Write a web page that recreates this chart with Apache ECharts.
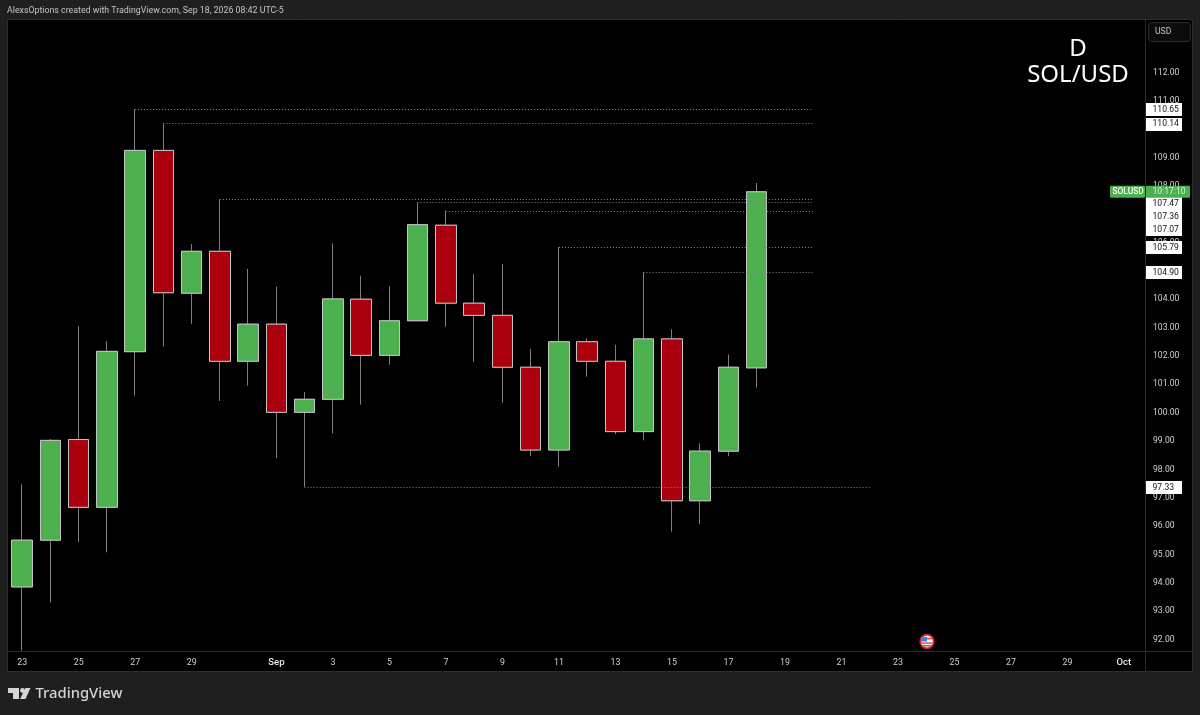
<!DOCTYPE html>
<html>
<head>
<meta charset="utf-8">
<title>SOL/USD</title>
<style>
    html, body { margin: 0; padding: 0; background: #1f1f1f; }
    #chart { width: 1200px; height: 715px; }
</style>
<script src="https://cdn.jsdelivr.net/npm/echarts@6/dist/echarts.min.js"></script>
</head>
<body>
<div id="chart"></div>
<script>
// daily candles from Aug 23 to Sep 18, the axis runs on to Oct 1
var categories = [
    'Aug 23', 'Aug 24', 'Aug 25', 'Aug 26', 'Aug 27', 'Aug 28', 'Aug 29', 'Aug 30', 'Aug 31',
    'Sep 1', 'Sep 2', 'Sep 3', 'Sep 4', 'Sep 5', 'Sep 6', 'Sep 7', 'Sep 8', 'Sep 9', 'Sep 10',
    'Sep 11', 'Sep 12', 'Sep 13', 'Sep 14', 'Sep 15', 'Sep 16', 'Sep 17', 'Sep 18', 'Sep 19',
    'Sep 20', 'Sep 21', 'Sep 22', 'Sep 23', 'Sep 24', 'Sep 25', 'Sep 26', 'Sep 27', 'Sep 28',
    'Sep 29', 'Sep 30', 'Oct 1'
];
var xTickLabels = {
    'Aug 23': '23', 'Aug 25': '25', 'Aug 27': '27', 'Aug 29': '29', 'Sep 1': 'Sep',
    'Sep 3': '3', 'Sep 5': '5', 'Sep 7': '7', 'Sep 9': '9', 'Sep 11': '11', 'Sep 13': '13',
    'Sep 15': '15', 'Sep 17': '17', 'Sep 19': '19', 'Sep 21': '21', 'Sep 23': '23',
    'Sep 25': '25', 'Sep 27': '27', 'Sep 29': '29', 'Oct 1': 'Oct'
};
var yTicks = [92, 93, 94, 95, 96, 97, 98, 99, 100, 101, 102, 103, 104, 105, 106, 107, 108, 109, 110, 111, 112];

var opens  = [93.80, 95.45, 99.00, 96.61, 102.10, 109.20, 104.16, 105.64, 101.76, 103.07, 99.96, 100.42, 103.95, 101.97, 103.19, 106.56, 103.81, 103.38, 101.55, 98.63, 102.45, 101.76, 99.28, 102.55, 96.84, 98.59, 101.53];
var closes = [95.45, 98.97, 96.61, 102.11, 109.20, 104.18, 105.64, 101.76, 103.07, 99.96, 100.42, 103.96, 101.97, 103.19, 106.58, 103.81, 103.38, 101.55, 98.63, 102.45, 101.76, 99.28, 102.55, 96.84, 98.59, 101.55, 107.74];
var lows   = [91.55, 93.25, 95.38, 95.02, 100.55, 102.28, 103.08, 100.36, 100.90, 98.34, 97.33, 99.22, 100.23, 101.64, 103.19, 102.98, 101.74, 100.30, 98.41, 98.04, 101.22, 99.19, 98.97, 95.75, 96.02, 98.41, 100.83];
var highs  = [97.42, 99.02, 103.00, 102.47, 110.65, 110.14, 105.90, 107.47, 105.02, 104.39, 100.68, 105.92, 104.78, 104.40, 107.36, 107.07, 104.83, 105.19, 102.20, 105.79, 102.57, 102.34, 104.90, 102.89, 98.87, 102.00, 108.05];

// horizontal levels drawn from a candle's wick
var levelPrices = [110.65, 110.14, 107.47, 107.36, 107.07, 105.79, 104.90, 97.33];
var levelStarts = ['Aug 27', 'Aug 28', 'Aug 30', 'Sep 6', 'Sep 7', 'Sep 11', 'Sep 14', 'Sep 2'];
var levelEnds   = ['Sep 20', 'Sep 20', 'Sep 20', 'Sep 20', 'Sep 20', 'Sep 20', 'Sep 20', 'Sep 22'];
// the price tags get pushed apart where they would overlap
var levelTagPrices = [110.65, 110.14, 107.34, 106.89, 106.43, 105.79, 104.90, 97.33];

var upColor = '#4caf50';
var downColor = '#ab000d';
var smallFont = 'Roboto, sans-serif';

var candles = opens.map(function (open, i) {
    return [open, closes[i], lows[i], highs[i]];
});

// same candles with the wicks cut off, painted over the dimmer wick series
var bodies = opens.map(function (open, i) {
    return [open, closes[i], Math.min(open, closes[i]), Math.max(open, closes[i])];
});

var levelLines = levelPrices.map(function (price, i) {
    return [{ coord: [levelStarts[i], price] }, { coord: [levelEnds[i], price] }];
});

var tagData = levelPrices.map(function (price, i) {
    return [0, levelTagPrices[i], price];
});

function renderTag(params, api) {
    var y = api.coord([0, api.value(1)])[1];
    return {
        type: 'group',
        children: [{
            type: 'rect',
            shape: { x: 1146, y: Math.round(y) - 6, width: 36, height: 13 },
            style: { fill: '#ffffff' }
        }, {
            type: 'text',
            style: {
                x: 1152.5, y: y + 0.5,
                text: api.value(2).toFixed(2),
                fill: '#131313',
                font: '8.6px ' + smallFont,
                verticalAlign: 'middle'
            }
        }]
    };
}

function renderCountdown(params, api) {
    var y = api.coord([0, api.value(1)])[1];
    return {
        type: 'group',
        children: [{
            type: 'rect',
            shape: { x: 1110, y: y - 6, width: 35, height: 12, r: 1 },
            style: { fill: upColor }
        }, {
            type: 'rect',
            shape: { x: 1146, y: y - 6, width: 44, height: 12, r: 1 },
            style: { fill: upColor }
        }, {
            type: 'text',
            style: { x: 1112.5, y: y + 0.5, text: 'SOLUSD', fill: '#ffffff', font: '500 8.4px ' + smallFont, verticalAlign: 'middle' }
        }, {
            type: 'text',
            style: { x: 1152.5, y: y + 0.5, text: '10:17:10', fill: '#d8f0d9', font: '8.6px ' + smallFont, verticalAlign: 'middle' }
        }]
    };
}

var chart = echarts.init(document.getElementById('chart'));

chart.setOption({
    animation: false,
    backgroundColor: '#1f1f1f',
    textStyle: { fontFamily: smallFont },
    grid: { left: 8, top: 20, width: 1130, height: 631, containLabel: false },
    xAxis: {
        type: 'category',
        data: categories,
        boundaryGap: true,
        axisLine: { show: false },
        axisTick: { show: false },
        splitLine: { show: false },
        axisLabel: {
            interval: 0,
            margin: 7,
            color: '#d1d1d1',
            fontFamily: smallFont,
            fontSize: 8.8,
            hideOverlap: false,
            formatter: function (value) {
                var label = xTickLabels[value] || '';
                return label === 'Sep' || label === 'Oct' ? '{month|' + label + '}' : label;
            },
            rich: { month: { color: '#e8e8e8', fontFamily: smallFont, fontSize: 9.5, fontWeight: 500 } }
        }
    },
    yAxis: {
        type: 'value',
        position: 'right',
        offset: 8,
        min: 91.54,
        max: 113.80,
        axisLine: { show: false },
        axisTick: { show: false },
        splitLine: { show: false },
        axisLabel: {
            customValues: yTicks,
            margin: 7,
            verticalAlign: 'top',
            lineHeight: 3,
            color: '#d1d1d1',
            fontFamily: smallFont,
            fontSize: 8.6,
            formatter: function (value) {
                return value.toFixed(2);
            }
        }
    },
    series: [{
        type: 'candlestick',
        name: 'wicks',
        data: candles,
        barWidth: 21,
        z: 2,
        itemStyle: {
            color: upColor,
            color0: downColor,
            borderColor: '#7e7e7e',
            borderColor0: '#7e7e7e',
            borderWidth: 1
        },
        markLine: {
            silent: true,
            symbol: 'none',
            label: { show: false },
            lineStyle: { type: [1, 2], color: '#8a8a8a', width: 1 },
            data: levelLines
        }
    }, {
        type: 'candlestick',
        name: 'bodies',
        data: bodies,
        barWidth: 21,
        z: 3,
        itemStyle: {
            color: upColor,
            color0: downColor,
            borderColor: '#c4c4c4',
            borderColor0: '#c4c4c4',
            borderWidth: 1
        }
    }, {
        type: 'custom',
        name: 'tags',
        z: 5,
        silent: true,
        clip: false,
        renderItem: renderTag,
        data: tagData
    }, {
        type: 'custom',
        name: 'countdown',
        z: 6,
        silent: true,
        clip: false,
        renderItem: renderCountdown,
        data: [[0, closes[closes.length - 1]]]
    }],
    graphic: [
        // pane and its dividers
        { type: 'rect', z: -10, silent: true, shape: { x: 7.5, y: 19.5, width: 1185, height: 652 }, style: { fill: '#000000', stroke: '#2e2e2e', lineWidth: 1 } },
        { type: 'line', z: -9, silent: true, shape: { x1: 1145.5, y1: 20, x2: 1145.5, y2: 671 }, style: { stroke: '#2a2a2a', lineWidth: 1 } },
        { type: 'line', z: -9, silent: true, shape: { x1: 8, y1: 651.5, x2: 1192, y2: 651.5 }, style: { stroke: '#2a2a2a', lineWidth: 1 } },

        // header and corner title
        { type: 'text', silent: true, style: { x: 7, y: 10.5, text: 'AlexsOptions created with TradingView.com, Sep 18, 2026 08:42 UTC-5', fill: '#c4c4c4', font: '8.8px ' + smallFont, verticalAlign: 'middle' } },
        { type: 'text', silent: true, style: { x: 1078, y: 49, text: 'D', fill: '#ffffff', font: '24px "Noto Sans"', align: 'center', verticalAlign: 'middle' } },
        { type: 'text', silent: true, style: { x: 1078, y: 75, text: 'SOL/USD', fill: '#ffffff', font: '24px "Noto Sans"', align: 'center', verticalAlign: 'middle' } },

        // currency box
        { type: 'rect', silent: true, shape: { x: 1148.5, y: 22.5, width: 42, height: 19, r: 3 }, style: { fill: '#0c0c0c', stroke: '#2e2e2e', lineWidth: 1 } },
        { type: 'text', silent: true, style: { x: 1155, y: 32, text: 'USD', fill: '#c4c4c4', font: '8.6px ' + smallFont, verticalAlign: 'middle' } },

        // economic event flag
        { type: 'circle', silent: true, shape: { cx: 927, cy: 641.5, r: 6.8 }, style: { fill: '#f2f2f2', stroke: '#d3202c', lineWidth: 1.8 } },
        { type: 'rect', silent: true, shape: { x: 921, y: 637, width: 6, height: 4.5 }, style: { fill: '#3f7fe0' } },
        { type: 'rect', silent: true, shape: { x: 927, y: 638, width: 5.5, height: 1.4 }, style: { fill: '#e2453f' } },
        { type: 'rect', silent: true, shape: { x: 921.5, y: 642.4, width: 11, height: 1.4 }, style: { fill: '#e2453f' } },
        { type: 'rect', silent: true, shape: { x: 922.5, y: 645, width: 9, height: 1.4 }, style: { fill: '#e2453f' } },

        // footer logo
        { type: 'polygon', silent: true, shape: { points: [[8, 688], [19, 688], [19, 699], [13, 699], [13, 693], [8, 693]] }, style: { fill: '#d4d4d4' } },
        { type: 'circle', silent: true, shape: { cx: 22.5, cy: 690.5, r: 2.4 }, style: { fill: '#d4d4d4' } },
        { type: 'polygon', silent: true, shape: { points: [[25.5, 688], [30.5, 688], [25.5, 699], [20, 699]] }, style: { fill: '#d4d4d4' } },
        { type: 'text', silent: true, style: { x: 35.5, y: 693.5, text: 'TradingView', fill: '#d4d4d4', font: '500 14.8px "Noto Sans"', verticalAlign: 'middle' } }
    ]
});
</script>
</body>
</html>
